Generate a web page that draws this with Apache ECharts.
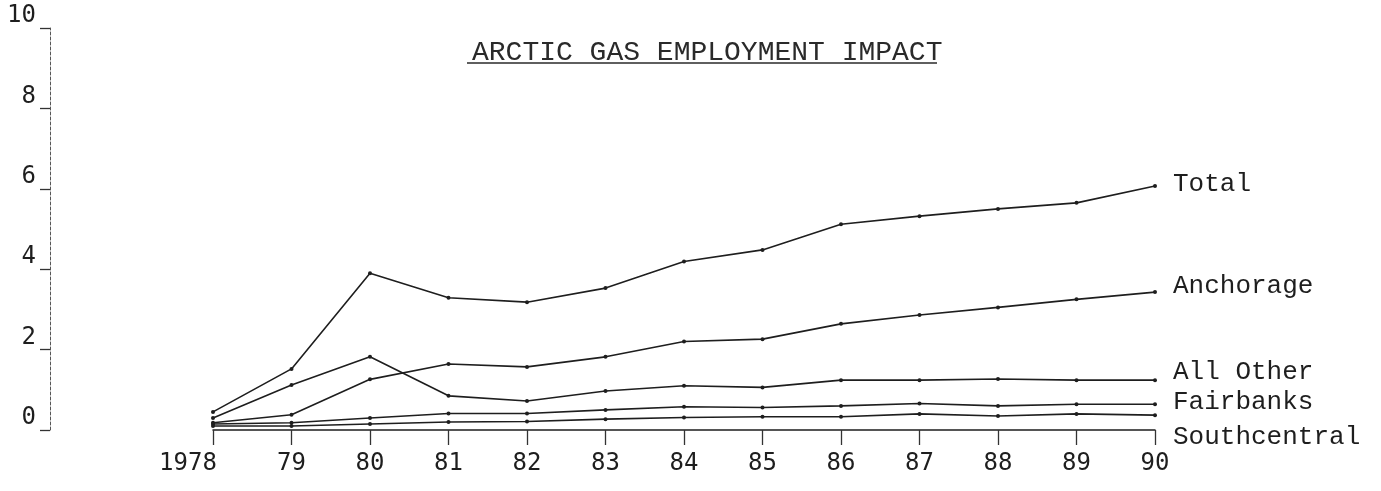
<!DOCTYPE html>
<html>
<head>
<meta charset="utf-8">
<title>Arctic Gas Employment Impact</title>
<script src="https://cdn.jsdelivr.net/npm/echarts@6/dist/echarts.min.js"></script>
<style>
  html, body { margin: 0; padding: 0; background: #fff; }
  #chart { width: 1381px; height: 491px; }
</style>
</head>
<body>
<div id="chart"></div>
<script>
// years along the bottom
const years = ['1978', '79', '80', '81', '82', '83', '84', '85', '86', '87', '88', '89', '90']
const yTicks = [0, 2, 4, 6, 8, 10]

// values
const total = [0.45, 1.52, 3.9, 3.29, 3.18, 3.53, 4.19, 4.48, 5.12, 5.32, 5.5, 5.65, 6.07]
const anchorage = [0.18, 0.38, 1.26, 1.64, 1.57, 1.82, 2.2, 2.26, 2.64, 2.86, 3.05, 3.25, 3.43]
const allOther = [0.3, 1.12, 1.82, 0.85, 0.72, 0.97, 1.1, 1.06, 1.24, 1.24, 1.27, 1.24, 1.24]
const fairbanks = [0.15, 0.18, 0.3, 0.41, 0.41, 0.5, 0.58, 0.56, 0.6, 0.66, 0.6, 0.64, 0.64]
const southcentral = [0.1, 0.1, 0.15, 0.2, 0.21, 0.27, 0.31, 0.33, 0.33, 0.4, 0.35, 0.4, 0.37]

const ink = '#1e1e1e'
const typeFont = 'Liberation Mono'
const numFont = 'DejaVu Sans Mono'

function line(name, data, labelOffset) {
  return {
    name: name,
    type: 'line',
    data: data,
    symbol: 'circle',
    symbolSize: 4,
    itemStyle: { color: ink },
    lineStyle: { color: ink, width: 1.6 },
    endLabel: {
      show: true,
      formatter: '{a}',
      distance: 18,
      offset: labelOffset,
      fontFamily: typeFont,
      fontSize: 26,
      color: ink
    }
  }
}

const chart = echarts.init(document.getElementById('chart'))
chart.setOption({
  backgroundColor: '#ffffff',
  animation: false,
  title: {
    text: 'ARCTIC GAS EMPLOYMENT IMPACT',
    left: 467,
    top: 34,
    textStyle: { fontFamily: typeFont, fontSize: 28, fontWeight: 'normal', color: '#2a2a2a' }
  },
  graphic: [{
    type: 'line',
    shape: { x1: 467, y1: 63, x2: 937, y2: 63 },
    style: { stroke: '#2a2a2a', lineWidth: 1.5 }
  }],
  grid: { left: 213, right: 226, top: 28, bottom: 61 },
  xAxis: {
    type: 'category',
    data: years,
    boundaryGap: false,
    axisLine: { lineStyle: { color: ink, width: 1.5 } },
    axisTick: { alignWithLabel: true, interval: 0, length: 15, lineStyle: { color: '#333', width: 1.3 } },
    axisLabel: {
      interval: 0,
      margin: 22,
      fontFamily: numFont,
      fontSize: 24,
      color: ink,
      formatter: function (v, i) { return i === 0 ? '{first|' + v + '}' : v },
      rich: { first: { fontFamily: numFont, fontSize: 24, color: ink, padding: [0, 50, 0, 0] } }
    },
    splitLine: { show: false }
  },
  yAxis: {
    type: 'value',
    min: yTicks[0],
    max: yTicks[yTicks.length - 1],
    interval: 2,
    offset: 163,
    axisLine: { show: true, lineStyle: { color: '#555', width: 1, type: [3, 2] } },
    axisTick: { show: true, length: 10, lineStyle: { color: '#333', width: 1.3 } },
    axisLabel: {
      margin: 14,
      verticalAlign: 'bottom',
      fontFamily: numFont,
      fontSize: 24,
      color: ink
    },
    splitLine: { show: false }
  },
  series: [
    line('Total', total, [0, -2]),
    line('Anchorage', anchorage, [0, -6]),
    line('All Other', allOther, [0, -8]),
    line('Fairbanks', fairbanks, [0, -2]),
    line('Southcentral', southcentral, [0, 22])
  ]
})
</script>
</body>
</html>
